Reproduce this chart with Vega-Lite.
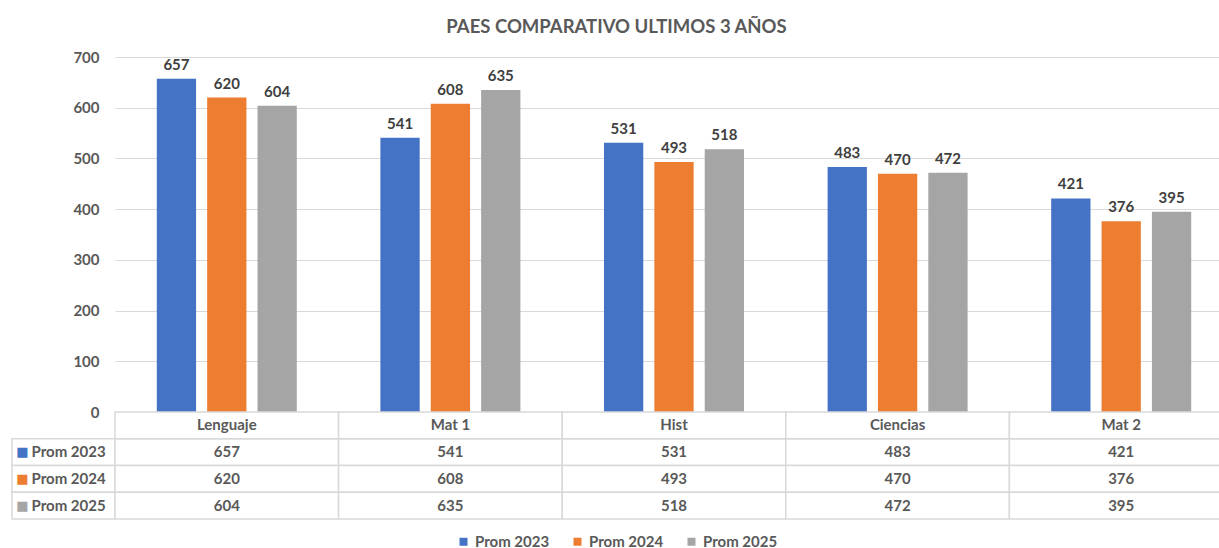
{
  "$schema": "https://vega.github.io/schema/vega-lite/v6.json",
  "padding": {"left": 11, "top": 17, "right": -14, "bottom": 0},
  "background": "white",
  "title": {"text": "PAES COMPARATIVO ULTIMOS 3 AÑOS", "fontSize": 18.5, "font": "Lato", "fontWeight": "bold", "color": "#595959", "anchor": "middle", "offset": 14, "dx": -6},
  "config": {
    "view": {"stroke": null},
    "font": "Lato",
    "legend": {"labelFontSize": 15, "labelFontWeight": "bold", "labelColor": "#595959", "symbolType": "square", "symbolSize": 64, "symbolStrokeWidth": 0, "labelOffset": 4, "columnPadding": 20}
  },
  "datasets": {
    "scores": [
      {"cat": "Lenguaje", "serie": "Prom 2023", "valor": 657},
      {"cat": "Lenguaje", "serie": "Prom 2024", "valor": 620},
      {"cat": "Lenguaje", "serie": "Prom 2025", "valor": 604},
      {"cat": "Mat 1", "serie": "Prom 2023", "valor": 541},
      {"cat": "Mat 1", "serie": "Prom 2024", "valor": 608},
      {"cat": "Mat 1", "serie": "Prom 2025", "valor": 635},
      {"cat": "Hist", "serie": "Prom 2023", "valor": 531},
      {"cat": "Hist", "serie": "Prom 2024", "valor": 493},
      {"cat": "Hist", "serie": "Prom 2025", "valor": 518},
      {"cat": "Ciencias", "serie": "Prom 2023", "valor": 483},
      {"cat": "Ciencias", "serie": "Prom 2024", "valor": 470},
      {"cat": "Ciencias", "serie": "Prom 2025", "valor": 472},
      {"cat": "Mat 2", "serie": "Prom 2023", "valor": 421},
      {"cat": "Mat 2", "serie": "Prom 2024", "valor": 376},
      {"cat": "Mat 2", "serie": "Prom 2025", "valor": 395}
    ]
  },
  "data": {"name": "scores"},
  "columns": 2,
  "spacing": 0,
  "bounds": "flush",
  "concat": [
    {
      "width": 103,
      "height": 355,
      "mark": {"type": "text", "opacity": 0},
      "encoding": {"text": {"value": ""}}
    },
    {
      "width": 1118,
      "height": 355,
      "encoding": {
        "x": {"field": "cat", "type": "nominal", "sort": ["Lenguaje", "Mat 1", "Hist", "Ciencias", "Mat 2"], "scale": {"paddingInner": 0, "paddingOuter": 0}, "axis": null},
        "xOffset": {"field": "serie", "type": "nominal", "scale": {"paddingInner": 0.22, "paddingOuter": 0.83}},
        "y": {"field": "valor", "type": "quantitative", "scale": {"domain": [0, 700]},
          "axis": {"values": [0, 100, 200, 300, 400, 500, 600, 700], "title": null, "domain": false, "ticks": false, "labelPadding": 16, "labelFontSize": 15, "labelFontWeight": "bold", "labelColor": "#595959", "gridColor": "#D9D9D9", "gridWidth": 1, "minExtent": 103, "maxExtent": 103}}
      },
      "layer": [
        {
          "mark": {"type": "bar"},
          "encoding": {
            "color": {"field": "serie", "type": "nominal",
              "scale": {"domain": ["Prom 2023", "Prom 2024", "Prom 2025"], "range": ["#4472C4", "#ED7D31", "#A5A5A5"]},
              "legend": {"title": null, "orient": "none", "direction": "horizontal", "legendX": 444, "legendY": 477, "labelFontWeight": "bold", "labelFontSize": 15,
                "encode": {"labels": {"update": {"fontWeight": {"value": "bold"}}}}}}
          }
        },
        {
          "mark": {"type": "text", "dy": -9, "baseline": "alphabetic", "fontSize": 15, "fontWeight": "bold", "color": "#404040"},
          "encoding": {"text": {"field": "valor", "type": "quantitative"}}
        }
      ]
    },
    {
      "width": 103,
      "height": 107,
      "transform": [{"filter": "datum.cat === 'Lenguaje'"}],
      "encoding": {
        "y": {"field": "serie", "type": "nominal", "scale": {"domain": ["Categoría", "Prom 2023", "Prom 2024", "Prom 2025"], "padding": 0}, "axis": null}
      },
      "layer": [
        {"mark": {"type": "rect", "fill": "white", "stroke": "#D9D9D9", "strokeWidth": 1.5}},
        {"mark": {"type": "text", "text": "■", "align": "center", "dx": -41, "fontSize": 13, "font": "DejaVu Sans"},
         "encoding": {"color": {"field": "serie", "type": "nominal"}}},
        {"mark": {"type": "text", "align": "left", "dx": -32, "fontSize": 15, "fontWeight": "bold", "color": "#595959"},
         "encoding": {"text": {"field": "serie", "type": "nominal"}}}
      ]
    },
    {
      "width": 1118,
      "height": 107,
      "encoding": {
        "x": {"field": "cat", "type": "nominal", "sort": ["Lenguaje", "Mat 1", "Hist", "Ciencias", "Mat 2"], "scale": {"paddingInner": 0, "paddingOuter": 0}, "axis": null}
      },
      "layer": [
        {"mark": {"type": "rect", "fill": "white", "stroke": "#D9D9D9", "strokeWidth": 1.5},
         "encoding": {"y": {"field": "serie", "type": "nominal", "scale": {"domain": ["Categoría", "Prom 2023", "Prom 2024", "Prom 2025"], "padding": 0}, "axis": null}}},
        {"transform": [{"filter": "datum.serie === 'Prom 2023'"}],
         "mark": {"type": "rect", "fill": "white", "stroke": "#D9D9D9", "strokeWidth": 1.5},
         "encoding": {"y": {"datum": "Categoría", "type": "nominal"}}},
        {"mark": {"type": "text", "fontSize": 15, "fontWeight": "bold", "color": "#595959"},
         "encoding": {"y": {"field": "serie", "type": "nominal"}, "text": {"field": "valor", "type": "quantitative"}}},
        {"transform": [{"filter": "datum.serie === 'Prom 2023'"}],
         "mark": {"type": "text", "fontSize": 15, "fontWeight": "bold", "color": "#595959"},
         "encoding": {"y": {"datum": "Categoría", "type": "nominal"}, "text": {"field": "cat", "type": "nominal"}}}
      ]
    }
  ]
}
